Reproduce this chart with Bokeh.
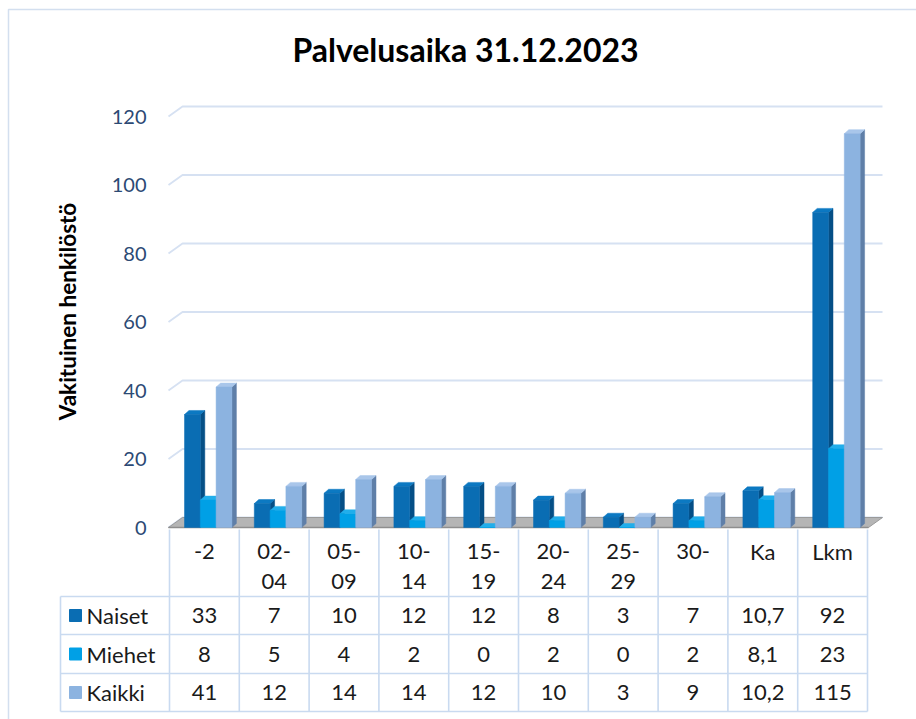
import math
from bokeh.plotting import figure
from bokeh.models import Range1d
from bokeh.core.properties import value
from bokeh.embed import file_html
from bokeh.resources import INLINE

# ---------------- data ----------------
title_text = "Palvelusaika 31.12.2023"
y_title = "Vakituinen henkilöstö"
categories = ["-2", "02-04", "05-09", "10-14", "15-19", "20-24", "25-29", "30-", "Ka", "Lkm"]
series_names = ["Naiset", "Miehet", "Kaikki"]
naiset = [33, 7, 10, 12, 12, 8, 3, 7, 10.7, 92]
miehet = [8, 5, 4, 2, 0, 2, 0, 2, 8.1, 23]
kaikki = [41, 12, 14, 14, 12, 10, 3, 9, 10.2, 115]
y_ticks = [0, 20, 40, 60, 80, 100, 120]

# ---------------- styling / layout ----------------
FONT = value("Lato")
W, H = 916, 719
COL0 = 169.0      # screen x of first category column
COLW = 69.8       # screen px per category
Y0 = 527.0        # screen y of value 0
PXV = 3.425       # screen px per value unit


def sx(px):
    return (px - COL0) / COLW


def sy(py):
    return (Y0 - py) / PXV


p = figure(width=W, height=H, output_backend="svg", toolbar_location=None,
           x_range=Range1d(sx(0), sx(W)), y_range=Range1d(sy(H), sy(0)),
           min_border=0, tools="")
p.axis.visible = False
p.grid.visible = False
p.outline_line_color = None
p.background_fill_color = "white"
p.border_fill_color = "white"

# outer chart frame
p.line([sx(8), sx(8), sx(916)], [sy(719), sy(9), sy(9)], line_color="#D3DFEF", line_width=1.5)

# title
p.text(x=[sx(465)], y=[sy(49)], text=[title_text], text_font=FONT, text_font_style="bold",
       text_font_size="32px", text_align="center", text_baseline="middle", text_color="#000000")

# y-axis title
p.text(x=[sx(67)], y=[sy(311)], text=[y_title], angle=math.pi / 2, text_font=FONT,
       text_font_style="bold", text_font_size="22.5px", text_align="center",
       text_baseline="middle", text_color="#000000")

# gridlines (back wall with 3D offset)
BX, BY = 14.0 / COLW, 10.0 / PXV
gx, gy = [], []
for t in y_ticks:
    gx.append([sx(168), sx(168) + BX, sx(882)])
    gy.append([t, t + BY, t + BY])
p.multi_line(gx, gy, line_color="#D6E1F2", line_width=1.8)

# tick labels
p.text(x=[sx(146)] * len(y_ticks), y=y_ticks, text=[str(t) for t in y_ticks], text_font=FONT,
       text_font_size="20px", text_align="right", text_baseline="middle", text_color="#2C4A74")

# floor
p.patch([sx(168), sx(868), sx(868) + BX, sx(168) + BX], [0, 0, BY, BY],
        fill_color="#B5B5B5", line_color="#9A9A9A", line_width=1)
p.line([sx(168), sx(868)], [0, 0], line_color="#8E8E8E", line_width=1.5)

# 3D bars
BARW = 15.8 / COLW
OFF = 15.0 / COLW
DX, DY = 4.5 / COLW, 4.0 / PXV
styles = [
    ("#0A6DB3", "#054F86", "#0C79C2"),   # Naiset: front, side, top
    ("#00A0E6", "#0079B8", "#21AEEB"),   # Miehet
    ("#8CB3E0", "#5F7FA8", "#A9C6EA"),   # Kaikki
]
for j, vals in enumerate([naiset, miehet, kaikki]):
    front, side, top = styles[j]
    lefts = [i + OFF + j * BARW for i in range(len(categories))]
    rights = [l + BARW for l in lefts]
    side_xs = [[r, r + DX, r + DX, r] for r in rights]
    side_ys = [[0, DY, v + DY, v] for v in vals]
    top_xs = [[l, r, r + DX, l + DX] for l, r in zip(lefts, rights)]
    top_ys = [[v, v, v + DY, v + DY] for v in vals]
    p.patches(side_xs, side_ys, fill_color=side, line_color=side, line_width=0.5)
    p.patches(top_xs, top_ys, fill_color=top, line_color=top, line_width=0.5)
    p.quad(left=lefts, right=rights, bottom=[0] * len(vals), top=vals,
           fill_color=front, line_color=front, line_width=0.5)

# ---------------- data table ----------------
TL = "#C9DAF0"
n = len(categories)
row_lines = [596, 634, 673, 711]
row_centers = [615, 653.5, 692]
vx, vy = [], []
for k in range(n + 1):
    vx.append([k, k])
    vy.append([sy(529), sy(711)])
vx.append([sx(60), sx(60)])
vy.append([sy(596), sy(711)])
for r in row_lines:
    vx.append([sx(60), n])
    vy.append([sy(r), sy(r)])
p.multi_line(vx, vy, line_color=TL, line_width=1.6)

# header labels (split ranges into two lines)
h1x, h1y, h1t = [], [], []
for i, c in enumerate(categories):
    if "-" in c and not c.startswith("-") and not c.endswith("-"):
        a, b = c.split("-")
        h1x += [i + 0.5, i + 0.5]
        h1y += [sy(551), sy(581)]
        h1t += [a + "-", b]
    else:
        h1x.append(i + 0.5)
        h1y.append(sy(551))
        h1t.append(c)
p.text(x=h1x, y=h1y, text=h1t, text_font=FONT, text_font_size="22px", text_align="center",
       text_baseline="middle", text_color="#1A1A1A")


def fmt(v):
    return str(int(v)) if float(v).is_integer() else str(v).replace(".", ",")


cx, cy, ct = [], [], []
for r, vals in enumerate([naiset, miehet, kaikki]):
    for i, v in enumerate(vals):
        cx.append(i + 0.5)
        cy.append(sy(row_centers[r]))
        ct.append(fmt(v))
p.text(x=cx, y=cy, text=ct, text_font=FONT, text_font_size="22px", text_align="center",
       text_baseline="middle", text_color="#1A1A1A")

# legend keys in table
key_colors = [s[0] for s in styles]
p.scatter(x=[sx(75)] * 3, y=[sy(r) for r in row_centers], marker="square", size=12,
          fill_color=key_colors, line_color=key_colors)
p.text(x=[sx(86)] * 3, y=[sy(r) for r in row_centers], text=series_names, text_font=FONT,
       text_font_size="22px", text_align="left", text_baseline="middle", text_color="#1A1A1A")

open("out.html", "w").write(file_html(p, INLINE))
